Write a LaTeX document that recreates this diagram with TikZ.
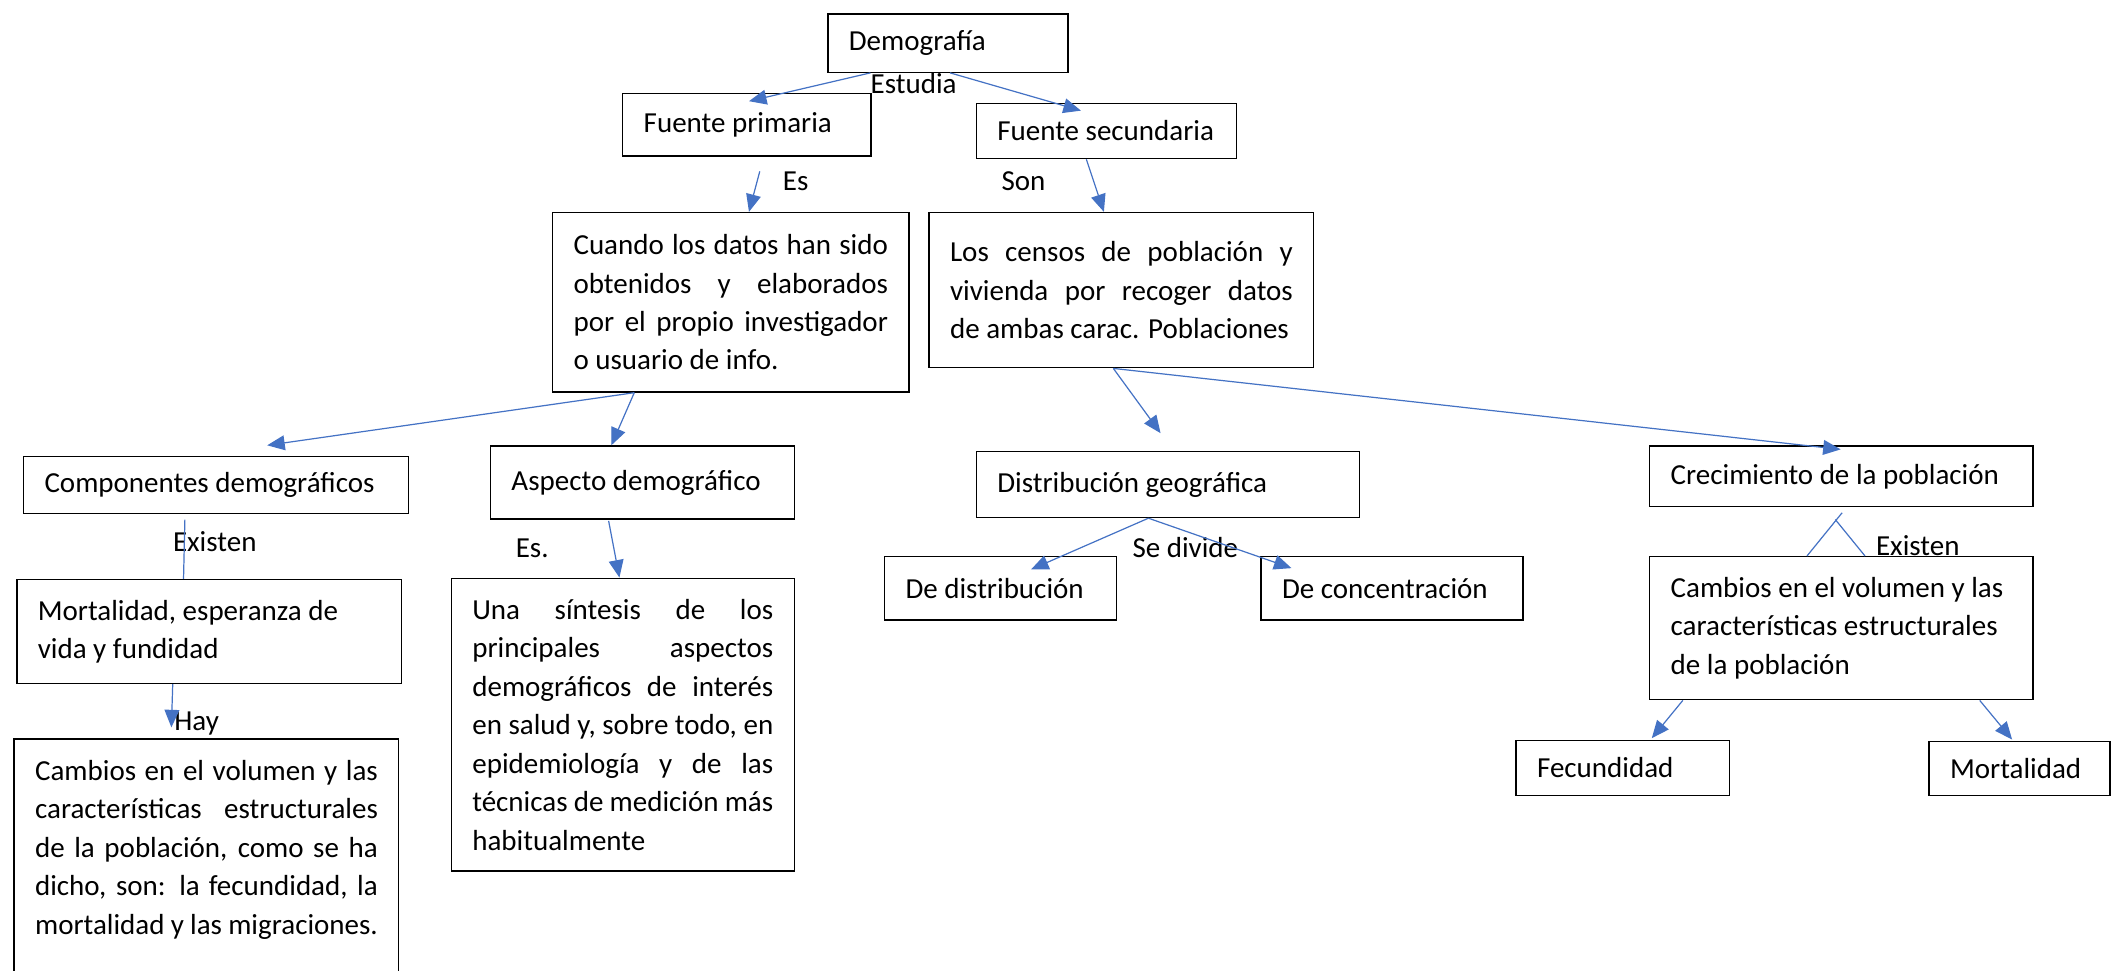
\documentclass[tikz,border=0pt]{standalone}
\usepackage{fontspec}
\setmainfont{Carlito}
\usepackage{xcolor}
\usetikzlibrary{shapes,arrows.meta,calc}
\definecolor{linkblue}{HTML}{4472C4}

\begin{document}
\begin{tikzpicture}[x=1pt, y=-1pt,
    font=\fontsize{21.5}{28.5}\selectfont,
    box/.style={rectangle, draw, line width=1pt, anchor=north west, inner xsep=15.5pt, inner ysep=0pt, align=flush left},
    link/.style={draw=linkblue, line width=0.9pt, -{Triangle[length=13pt, width=11pt]}},
    plain/.style={draw=linkblue, line width=0.9pt},
    tag/.style={anchor=base west, inner sep=0pt}]
    \useasboundingbox (0,0) rectangle (1568,719);

    \node (demo) [box, text width=147pt, minimum height=43pt] at (613,10) {Demografía};
    \node (prim) [box, text width=153pt, minimum height=46pt] at (461,69) {Fuente primaria};
    \node (sec) [box, text width=162pt, minimum height=41pt] at (723,76) {Fuente secundaria};
    \node (cuando) [box, align=justify, text width=233pt, minimum height=133pt] at (409,157) {Cuando los datos han sido\linebreak obtenidos y elaborados\linebreak por el propio investigador\linebreak o usuario de info.};
    \node (censos) [box, align=justify, text width=254pt, minimum height=115pt] at (688,157) {Los censos de población y\linebreak vivienda por recoger datos\linebreak de ambas carac. Poblaciones};
    \node (comp) [box, text width=254pt, minimum height=42pt] at (17,338) {Componentes demográficos};
    \node (aspecto) [box, text width=194pt, minimum height=54pt] at (363,330) {Aspecto demográfico};
    \node (distgeo) [box, text width=253pt, minimum height=49pt] at (723,334) {Distribución geográfica};
    \node (crec) [box, text width=253pt, minimum height=45pt] at (1222,330) {Crecimiento de la población};
    \node (mortesp) [box, text width=254pt, minimum height=77pt] at (12,429) {Mortalidad, esperanza de\\ vida y fundidad};
    \node (sintesis) [box, align=justify, text width=223pt, minimum height=217pt] at (334,428) {Una síntesis de los\linebreak principales aspectos\linebreak demográficos de interés\linebreak en salud y, sobre todo, en\linebreak epidemiología y de las\linebreak técnicas de medición más\linebreak habitualmente};
    \node (dedist) [box, text width=141pt, minimum height=47pt] at (655,412) {De distribución};
    \node (deconc) [box, text width=163pt, minimum height=47pt] at (934,412) {De concentración};
    \node (cambiosR) [box, text width=253pt, minimum height=106pt] at (1222,412) {Cambios en el volumen y las\\ características estructurales\\ de la población};
    \node (cambiosL) [box, align=justify, text width=254pt, minimum height=189pt] at (10,547) {Cambios en el volumen y las\linebreak características estructurales\linebreak de la población, como se ha\linebreak dicho, son: la fecundidad, la\linebreak mortalidad y las migraciones.\\ \mbox{}};
    \node (fec) [box, text width=127pt, minimum height=41pt] at (1123,548) {Fecundidad};
    \node (mort) [box, text width=103pt, minimum height=40pt] at (1429,549) {Mortalidad};

    % labels on the links
    \node (estudia) [tag] at (645,69) {Estudia};
    \node (es) [tag] at (580,141) {Es};
    \node (son) [tag] at (742,141) {Son};
    \node (existenL) [tag] at (128,409) {Existen};
    \node (espunto) [tag] at (382,413) {Es.};
    \node (hay) [tag] at (129,541) {Hay};
    \node (sedivide) [tag] at (839,413) {Se divide};
    \node (existenR) [tag] at (1390,412) {Existen};

    % free ends
    \coordinate (esfrom) at (563,127);
    \coordinate (existfrom) at (137,385);
    \coordinate (crecA) at (1365,380);
    \coordinate (crecB) at (1360,385);

    \draw [link] ($(demo.south west)+(32,0)$) -- ($(prim.north west)+(94,6)$);
    \draw [link] ($(demo.south west)+(91,0)$) -- ($(sec.north west)+(78,6)$);
    \draw [link] (esfrom) -- ($(cuando.north west)+(146,0)$);
    \draw [link] ($(sec.south west)+(82,0)$) -- ($(censos.north west)+(130,0)$);
    \draw [link] ($(cuando.south west)+(61,0)$) -- ($(comp.north west)+(181,-8)$);
    \draw [link] ($(cuando.south west)+(61,0)$) -- ($(aspecto.north west)+(90,0)$);
    \draw [link] ($(censos.south west)+(137,0)$) -- ($(distgeo.north west)+(137,-13)$);
    \draw [link] ($(censos.south west)+(137,0)$) -- ($(crec.north west)+(142,3)$);
    \draw [plain] (existfrom) -- ($(mortesp.north west)+(124,0)$);
    \draw [link] ($(mortesp.south west)+(116,0)$) -- ($(cambiosL.north west)+(117,-8)$);
    \draw [link] ($(aspecto.south west)+(88,1)$) -- ($(sintesis.north west)+(125,0)$);
    \draw [link] ($(distgeo.south west)+(128,0)$) -- ($(dedist.north west)+(109,10)$);
    \draw [link] ($(distgeo.south west)+(128,0)$) -- ($(deconc.north west)+(23,9)$);
    \draw [plain] (crecA) -- ($(cambiosR.north west)+(117,0)$);
    \draw [plain] (crecB) -- ($(cambiosR.north west)+(160,0)$);
    \draw [link] ($(cambiosR.south west)+(25,0)$) -- ($(fec.north west)+(101,-1)$);
    \draw [link] ($(cambiosR.south west)+(245,0)$) -- ($(mort.north west)+(62,-1)$);
\end{tikzpicture}
\end{document}
